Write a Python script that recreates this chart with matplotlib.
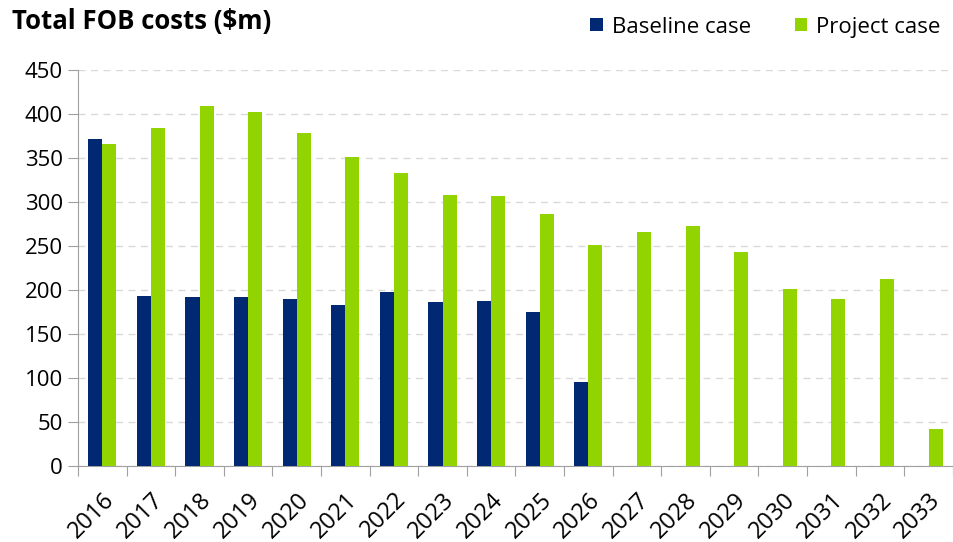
import numpy as np
import matplotlib.pyplot as plt

years = [str(y) for y in range(2016, 2034)]
baseline = [371, 193, 192, 192, 189, 183, 197, 186, 187, 175, 95,
            0, 0, 0, 0, 0, 0, 0]
project = [366, 384, 409, 402, 378, 351, 333, 308, 307, 286, 251,
           266, 273, 243, 201, 189, 212, 42]

navy = "#002873"
green = "#92D400"

plt.rcParams["font.family"] = ["Open Sans", "DejaVu Sans"]

fig = plt.figure(figsize=(9.54, 5.42), dpi=100)
ax = fig.add_axes([0.0818, 0.141, 0.917, 0.730])

x = np.arange(len(years))
w = 0.29
ax.bar(x - w / 2, baseline, w, color=navy, label="Baseline case", zorder=3)
ax.bar(x + w / 2, project, w, color=green, label="Project case", zorder=3)

ax.set_xlim(-0.5, len(years) - 0.5)
ax.set_ylim(0, 450)
ax.set_yticks(range(0, 451, 50))
ax.tick_params(axis="y", labelsize=16, length=7, color="#a0a0a0", pad=4)

# x ticks sit between categories, labels at category centres
ax.set_xticks(np.arange(-0.5, len(years), 1.0))
ax.set_xticklabels([])
ax.set_xticks(x, minor=True)
ax.set_xticklabels(years, minor=True, rotation=45, ha="right",
                   rotation_mode="anchor", fontsize=17)
ax.tick_params(axis="x", which="major", length=7, color="#a0a0a0")
ax.tick_params(axis="x", which="minor", length=0, pad=16)

ax.grid(axis="y", color="#d9d9d9", linestyle=(0, (5, 4)), linewidth=1, zorder=0)
for s in ["top", "right"]:
    ax.spines[s].set_visible(False)
for s in ["left", "bottom"]:
    ax.spines[s].set_color("#a0a0a0")

fig.text(0.013, 0.96, "Total FOB costs ($m)", fontsize=18.5, fontweight="bold",
         va="center", ha="left")

fig.legend(loc="center right", bbox_to_anchor=(0.986, 0.95), ncol=2, frameon=False,
           fontsize=16, handlelength=0.55, handleheight=0.55, handletextpad=0.4,
           columnspacing=2.0, borderaxespad=0, borderpad=0)

fig.savefig("out.png", dpi=100)
